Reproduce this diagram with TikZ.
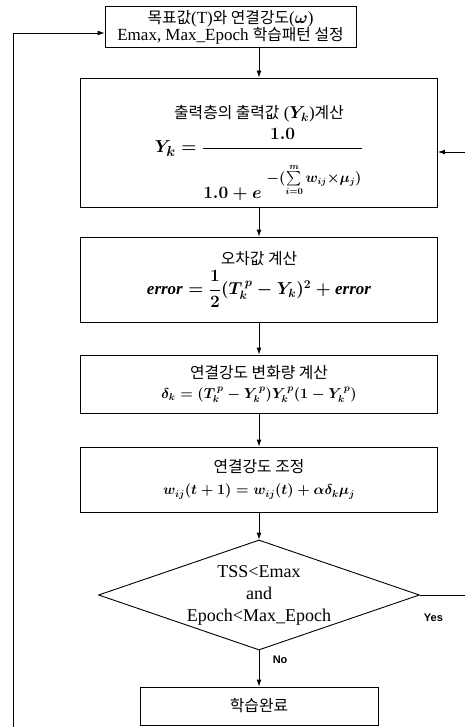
\documentclass[tikz,border=0pt]{standalone}
\usepackage{amsmath}
\usepackage{fontspec}
\setmainfont{Liberation Serif}
\setsansfont{Liberation Sans}
\newfontfamily\kfont[Scale=0.93]{Noto Sans CJK KR}
\newcommand{\kr}[1]{{\kfont #1}}
\usetikzlibrary{calc,positioning,shapes.geometric,arrows.meta}

\tikzset{
  procbox/.style={draw, line width=0.9pt, align=center, inner sep=2pt, font=\fontsize{17}{17}\selectfont},
  decbox/.style={draw, diamond, line width=0.9pt, align=center, inner sep=0pt, aspect=2.9,
    minimum width=321, minimum height=110, font=\fontsize{18}{22}\selectfont},
  flowarrow/.style={line width=0.9pt, -{Latex[length=7pt,width=5pt]}},
  flowline/.style={line width=0.9pt},
  edgelabel/.style={font=\sffamily\bfseries\fontsize{11}{12}\selectfont},
}

\begin{document}
\begin{tikzpicture}[x=1pt, y=-1pt]
  \useasboundingbox (0,0) rectangle (465,727);

  \node[procbox, minimum width=251, minimum height=41] (target) at (230.5,27)
    {\kr{목표값}(T)\kr{와 연결강도}($\boldsymbol{\omega}$)\\
     Emax, Max\_Epoch \kr{학습패턴 설정}};

  \node[procbox, minimum width=357, minimum height=129] (output) at (259,142.5)
    {\rule{0pt}{34pt}\kr{출력층의 출력값} ($\boldsymbol{Y_k}$)\kr{계산}\\[5pt]
     {\boldmath\fontsize{19}{22}\selectfont
      $Y_k = \dfrac{\mathbf{1.0}}{\rule{0pt}{48pt}\mathbf{1.0} + e^{\;-(\sum\limits_{i=0}^{m} w_{ij}\times\mu_j)}}$}};

  \node[procbox, minimum width=357, minimum height=85] (error) at (259,279.5)
    {\kr{오차값 계산}\\[4pt]
     {\boldmath\fontsize{17}{20}\selectfont
      $\mathit{error} = \dfrac{1}{2}(T_k^{\,p} - Y_k)^2 + \mathit{error}$}};

  \node[procbox, minimum width=357, minimum height=58] (delta) at (259,384)
    {\kr{연결강도 변화량 계산}\\[3pt]
     {\boldmath\fontsize{14}{17}\selectfont
      $\delta_k = (T_k^{\,p} - Y_k^{\,p})Y_k^{\,p}(1 - Y_k^{\,p})$}};

  \node[procbox, minimum width=357, minimum height=65] (update) at (259,479.5)
    {\kr{연결강도 조정}\\[5pt]
     {\boldmath\fontsize{14}{17}\selectfont
      $w_{ij}(t+1) = w_{ij}(t) + \alpha\delta_k\mu_j$}};

  \node[decbox] (check) at (259,595)
    {TSS<Emax\\and\\Epoch<Max\_Epoch};

  \node[procbox, minimum width=238, minimum height=38] (done) at (259,706)
    {\kr{학습완료}};

  % loop ends leave the picture
  \coordinate (loopbottom) at (13,727);
  \coordinate (loopcorner) at (13,33);
  \coordinate (yesend) at (465,595);
  \coordinate (backin) at (465,152);

  \draw[flowarrow] (output.north |- target.south) -- (output.north);
  \draw[flowarrow] (output) -- (error);
  \draw[flowarrow] (error) -- (delta);
  \draw[flowarrow] (delta) -- (update);
  \draw[flowarrow] (update) -- (check);
  \draw[flowarrow] (check.south) -- (done.north)
    node[edgelabel, pos=0.25, right=10pt] (nolabel) {No};
  \draw[flowline] (check.east) -- (yesend)
    node[edgelabel, pos=0.3, below=15pt] (yeslabel) {Yes};
  \draw[flowarrow] (backin) -- (output.east |- backin);
  \draw[flowarrow] (loopbottom) -- (loopcorner) -- (target.west |- loopcorner);
\end{tikzpicture}
\end{document}
